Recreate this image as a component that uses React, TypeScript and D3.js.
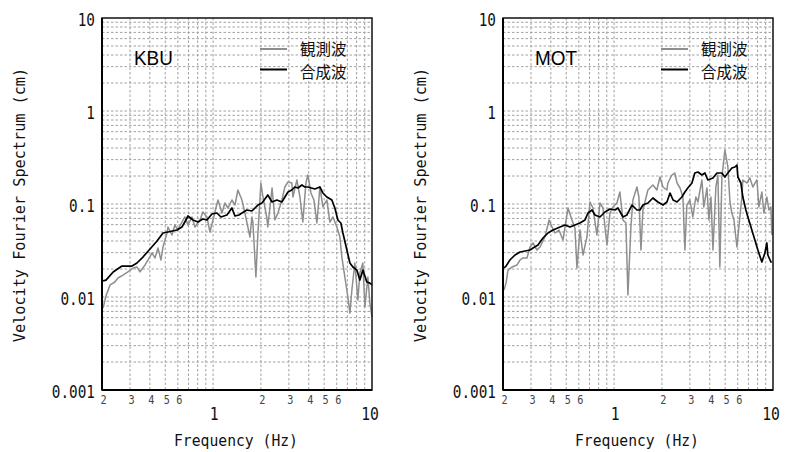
import React from "react";
import * as d3 from "d3";

// Velocity Fourier spectra [frequency (Hz), amplitude (cm)]
const kbuObserved: [number, number][] = [
  [0.203, 0.0076], [0.212, 0.0103], [0.225, 0.0135], [0.241, 0.0145], [0.252, 0.016],
  [0.271, 0.0172], [0.291, 0.0186], [0.314, 0.0205], [0.332, 0.021], [0.347, 0.0186],
  [0.373, 0.0221], [0.39, 0.025], [0.413, 0.0297], [0.431, 0.0263], [0.45, 0.0336],
  [0.47, 0.025], [0.484, 0.0345], [0.513, 0.0488], [0.52, 0.0566], [0.551, 0.0464],
  [0.575, 0.0594], [0.6, 0.0525], [0.637, 0.064], [0.665, 0.0725], [0.695, 0.0594],
  [0.736, 0.0725], [0.769, 0.0566], [0.827, 0.0673], [0.863, 0.082], [0.915, 0.0725],
  [0.956, 0.05], [0.998, 0.0673], [1.073, 0.1104], [1.137, 0.08], [1.187, 0.1025],
  [1.24, 0.0906], [1.314, 0.1104], [1.373, 0.0975], [1.433, 0.1414], [1.519, 0.1104],
  [1.586, 0.08], [1.706, 0.0442], [1.755, 0.0725], [1.78, 0.064], [1.86, 0.0164],
  [1.915, 0.0488], [2.0, 0.1682], [2.06, 0.1189], [2.18, 0.0707], [2.21, 0.0566],
  [2.35, 0.1486], [2.45, 0.0673], [2.56, 0.08], [2.71, 0.1104], [2.83, 0.1524],
  [2.96, 0.1724], [3.13, 0.1682], [3.18, 0.1189], [3.37, 0.1812], [3.52, 0.1189],
  [3.67, 0.064], [3.84, 0.1682], [3.95, 0.205], [4.13, 0.1313], [4.31, 0.1104],
  [4.5, 0.0625], [4.7, 0.1524], [4.91, 0.0929], [5.2, 0.1104], [5.43, 0.064],
  [5.68, 0.0725], [6.01, 0.0566], [6.28, 0.0442], [6.46, 0.0269], [6.75, 0.0164],
  [7.05, 0.01], [7.26, 0.0067], [7.47, 0.0119], [7.8, 0.0232], [8.15, 0.0093],
  [8.39, 0.0181], [8.76, 0.0232], [9.02, 0.0078], [9.42, 0.0164], [9.7, 0.0086],
  [10.0, 0.0061],
];

const kbuSynthetic: [number, number][] = [
  [0.203, 0.0149], [0.212, 0.0152], [0.235, 0.0186], [0.267, 0.0215], [0.309, 0.0215],
  [0.332, 0.0232], [0.362, 0.0269], [0.401, 0.0328], [0.444, 0.04], [0.484, 0.0488],
  [0.52, 0.05], [0.593, 0.0525], [0.637, 0.0566], [0.675, 0.0673], [0.695, 0.0743],
  [0.747, 0.0673], [0.803, 0.064], [0.863, 0.069], [0.915, 0.0673], [0.984, 0.0781],
  [1.058, 0.08], [1.12, 0.0725], [1.222, 0.0762], [1.314, 0.0906], [1.373, 0.0743],
  [1.454, 0.0762], [1.519, 0.08], [1.633, 0.0862], [1.755, 0.0841], [1.915, 0.0975],
  [2.03, 0.1025], [2.12, 0.1132], [2.21, 0.1249], [2.35, 0.1051], [2.52, 0.1104],
  [2.71, 0.1051], [2.83, 0.1189], [2.96, 0.1346], [3.13, 0.1414], [3.27, 0.1524],
  [3.42, 0.1486], [3.62, 0.1601], [3.78, 0.1524], [3.95, 0.1524], [4.37, 0.145],
  [4.7, 0.1524], [4.91, 0.1313], [5.2, 0.1189], [5.59, 0.1104], [5.84, 0.0906],
  [6.1, 0.0673], [6.37, 0.0625], [6.56, 0.0488], [6.95, 0.032], [7.26, 0.0232],
  [7.58, 0.021], [8.03, 0.0195], [8.39, 0.0152], [8.76, 0.0195], [9.28, 0.0145],
  [9.7, 0.0141], [10.0, 0.0135],
];

const motObserved: [number, number][] = [
  [0.203, 0.0119], [0.209, 0.0141], [0.215, 0.0195], [0.228, 0.021], [0.245, 0.0221],
  [0.256, 0.025], [0.267, 0.0263], [0.283, 0.0263], [0.296, 0.0345], [0.309, 0.0381],
  [0.327, 0.032], [0.342, 0.0345], [0.367, 0.0442], [0.39, 0.0673], [0.407, 0.0566],
  [0.425, 0.0488], [0.45, 0.0525], [0.477, 0.041], [0.505, 0.0762], [0.513, 0.0906],
  [0.543, 0.0673], [0.567, 0.0552], [0.584, 0.0205], [0.61, 0.0525], [0.637, 0.0283],
  [0.675, 0.0442], [0.705, 0.1051], [0.736, 0.0906], [0.78, 0.0464], [0.815, 0.1025],
  [0.851, 0.0906], [0.902, 0.0362], [0.942, 0.08], [0.984, 0.0929], [1.042, 0.1025],
  [1.088, 0.1346], [1.137, 0.0673], [1.187, 0.0625], [1.222, 0.0105], [1.276, 0.0566],
  [1.314, 0.1104], [1.392, 0.1524], [1.433, 0.1189], [1.476, 0.032], [1.519, 0.0862],
  [1.633, 0.1414], [1.755, 0.1601], [1.86, 0.1414], [1.943, 0.1951], [2.03, 0.1524],
  [2.15, 0.1414], [2.18, 0.1682], [2.31, 0.205], [2.41, 0.2154], [2.49, 0.1682],
  [2.6, 0.1486], [2.71, 0.1189], [2.79, 0.032], [2.87, 0.0975], [3.0, 0.1104],
  [3.13, 0.0725], [3.27, 0.1189], [3.37, 0.1051], [3.57, 0.1812], [3.67, 0.0929],
  [3.84, 0.1486], [3.95, 0.0673], [4.07, 0.1189], [4.19, 0.032], [4.37, 0.1524],
  [4.5, 0.205], [4.63, 0.021], [4.77, 0.1951], [4.98, 0.381], [5.2, 0.25],
  [5.36, 0.1051], [5.51, 0.08], [5.68, 0.0673], [5.93, 0.0345], [6.1, 0.0566],
  [6.37, 0.1189], [6.46, 0.1812], [6.85, 0.1682], [7.15, 0.1904], [7.47, 0.1524],
  [7.92, 0.1812], [8.15, 0.0929], [8.51, 0.1346], [8.76, 0.08], [9.15, 0.1189],
  [9.42, 0.0862], [9.7, 0.0929], [9.84, 0.0464],
];

const motSynthetic: [number, number][] = [
  [0.203, 0.0205], [0.209, 0.0215], [0.221, 0.025], [0.238, 0.0283], [0.256, 0.0305],
  [0.296, 0.032], [0.309, 0.0336], [0.332, 0.0362], [0.357, 0.0431], [0.384, 0.0488],
  [0.413, 0.0525], [0.457, 0.0566], [0.491, 0.0594], [0.528, 0.0566], [0.567, 0.0594],
  [0.61, 0.0625], [0.656, 0.0673], [0.685, 0.08], [0.726, 0.0862], [0.758, 0.0762],
  [0.815, 0.0725], [0.876, 0.082], [0.942, 0.0884], [1.013, 0.0862], [1.058, 0.0906],
  [1.137, 0.0725], [1.205, 0.0762], [1.296, 0.0975], [1.392, 0.0862], [1.454, 0.0862],
  [1.519, 0.0975], [1.633, 0.1025], [1.755, 0.116], [1.887, 0.1051], [2.03, 0.0975],
  [2.15, 0.1051], [2.25, 0.1313], [2.35, 0.1104], [2.49, 0.1051], [2.67, 0.1189],
  [2.79, 0.1346], [2.91, 0.1486], [3.09, 0.1682], [3.22, 0.2154], [3.37, 0.2209],
  [3.57, 0.205], [3.73, 0.2154], [3.89, 0.1812], [4.19, 0.1904], [4.44, 0.2154],
  [4.77, 0.2154], [4.98, 0.1951], [5.2, 0.2154], [5.51, 0.2438], [5.76, 0.25],
  [5.93, 0.2626], [6.01, 0.1951], [6.28, 0.1682], [6.46, 0.1189], [6.75, 0.0862],
  [6.95, 0.0725], [7.36, 0.0525], [7.69, 0.041], [8.03, 0.032], [8.51, 0.0238],
  [8.89, 0.0297], [9.15, 0.0381], [9.28, 0.0283], [9.7, 0.0238], [9.84, 0.0238],
];

const stations = ["KBU", "MOT"];
const legendLabels = ["観測波", "合成波"];
const yTickValues = [0.001, 0.01, 0.1, 1, 10];
const yTickLabels = ["0.001", "0.01", "0.1", "1", "10"];
const xMajorValues = [1, 10];
const xMajorLabels = ["1", "10"];
const xMinorLabelValues = [0.2, 0.3, 0.4, 0.5, 0.6, 2, 3, 4, 5, 6];
const xMinorLabels = ["2", "3", "4", "5", "6", "2", "3", "4", "5", "6"];
const xLabel = "Frequency (Hz)";
const yLabel = "Velocity Fourier Spectrum (cm)";

const WIDTH = 802;
const HEIGHT = 452;
const TOP = 18;
const BOTTOM = 390;
const PLOT_W = 270;
const MONO = "'DejaVu Sans Mono', monospace";
const GRAY = "#8e8e8e";

type Series = [number, number][];

// Monospaced text squeezed horizontally, like a half-width gothic face
function NarrowText({
  x, y, anchor = "start", size, squeeze = 0.82, fill = "#111", rotate = 0, children,
}: {
  x: number; y: number; anchor?: "start" | "middle" | "end"; size: number; squeeze?: number;
  fill?: string; rotate?: number; children: React.ReactNode;
}) {
  return (
    <g transform={`translate(${x},${y}) rotate(${rotate}) scale(${squeeze},1)`}>
      <text x={0} y={0} textAnchor={anchor} dominantBaseline="central" fontFamily={MONO} fontSize={size} fill={fill}>
        {children}
      </text>
    </g>
  );
}

function Panel({ left, station, observed, synthetic }: { left: number; station: string; observed: Series; synthetic: Series }) {
  const x = d3.scaleLog().domain([0.2, 10]).range([left, left + PLOT_W]);
  const y = d3.scaleLog().domain([0.001, 10]).range([BOTTOM, TOP]);
  const line = d3
    .line<[number, number]>()
    .x((d) => x(d[0]))
    .y((d) => y(d[1]));

  const hGrid: number[] = [];
  [0.001, 0.01, 0.1, 1].forEach((dec) => {
    for (let k = 1; k <= 9; k++) {
      const v = dec * k;
      if (v > 0.001) hGrid.push(v);
    }
  });
  const vGrid: number[] = [];
  [0.1, 1].forEach((dec) => {
    for (let k = 1; k <= 9; k++) {
      const v = dec * k;
      if (v > 0.2 && v < 10) vGrid.push(v);
    }
  });

  const right = left + PLOT_W;
  const cjk = "'Noto Sans CJK JP', sans-serif";
  const legendY = [48, 70.5];
  return (
    <g>
      {hGrid.map((v) => (
        <line key={"h" + v} x1={left} x2={right} y1={y(v)} y2={y(v)} stroke="#a0a0a0" strokeWidth={1} strokeDasharray="2.5,2" />
      ))}
      {vGrid.map((v) => (
        <line key={"v" + v} x1={x(v)} x2={x(v)} y1={TOP} y2={BOTTOM} stroke="#a0a0a0" strokeWidth={1} strokeDasharray="2.5,2" />
      ))}
      <path d={line(observed) || ""} fill="none" stroke={GRAY} strokeWidth={1.5} strokeLinejoin="round" />
      <path d={line(synthetic) || ""} fill="none" stroke="#000" strokeWidth={1.7} strokeLinejoin="round" />
      <rect x={left} y={TOP} width={PLOT_W} height={BOTTOM - TOP} fill="none" stroke="#111" strokeWidth={1.5} />
      <line x1={left} x2={left} y1={TOP} y2={BOTTOM} stroke="#000" strokeWidth={2} />
      <line x1={left} x2={right} y1={BOTTOM} y2={BOTTOM} stroke="#000" strokeWidth={2} />

      {yTickValues.map((v, i) => (
        <NarrowText key={"yt" + v} x={left - 7} y={y(v) + 1.5} anchor="end" size={17.5}>
          {yTickLabels[i]}
        </NarrowText>
      ))}
      {xMinorLabelValues.map((v, i) => (
        <NarrowText key={"xm" + v} x={x(v) + 1.5} y={400} anchor="middle" size={12} squeeze={0.85} fill="#444">
          {xMinorLabels[i]}
        </NarrowText>
      ))}
      {xMajorValues.map((v, i) => (
        <NarrowText key={"xM" + v} x={x(v) + (v === 10 ? -2 : 1)} y={414} anchor="middle" size={18}>
          {xMajorLabels[i]}
        </NarrowText>
      ))}
      <NarrowText x={left + 134} y={441} anchor="middle" size={16} squeeze={0.92}>
        {xLabel}
      </NarrowText>
      <NarrowText x={left - 82} y={205} anchor="middle" size={16} squeeze={0.95} rotate={-90}>
        {yLabel}
      </NarrowText>

      <g transform={`translate(${left + 32},58) scale(0.9,1)`}>
        <text x={0} y={0} dominantBaseline="central" fontFamily="'Liberation Sans', Arial, sans-serif" fontSize={21} fill="#000">
          {station}
        </text>
      </g>
      <line x1={left + 158} x2={left + 185} y1={legendY[0] + 1} y2={legendY[0] + 1} stroke={GRAY} strokeWidth={2} />
      <line x1={left + 158} x2={left + 185} y1={legendY[1] - 1} y2={legendY[1] - 1} stroke="#000" strokeWidth={2} />
      {legendLabels.map((label, i) => (
        <text key={label} x={left + 198} y={legendY[i]} dominantBaseline="central" fontFamily={cjk} fontSize={15.5} fill="#111">
          {label}
        </text>
      ))}
    </g>
  );
}

export default function App() {
  return (
    <svg
      width={WIDTH}
      height={HEIGHT}
      viewBox={`0 0 ${WIDTH} ${HEIGHT}`}
      style={{ position: "absolute", left: 0, top: 0, background: "#fff" }}
    >
      <rect x={0} y={0} width={WIDTH} height={HEIGHT} fill="#fff" />
      <Panel left={102} station={stations[0]} observed={kbuObserved} synthetic={kbuSynthetic} />
      <Panel left={503} station={stations[1]} observed={motObserved} synthetic={motSynthetic} />
    </svg>
  );
}
